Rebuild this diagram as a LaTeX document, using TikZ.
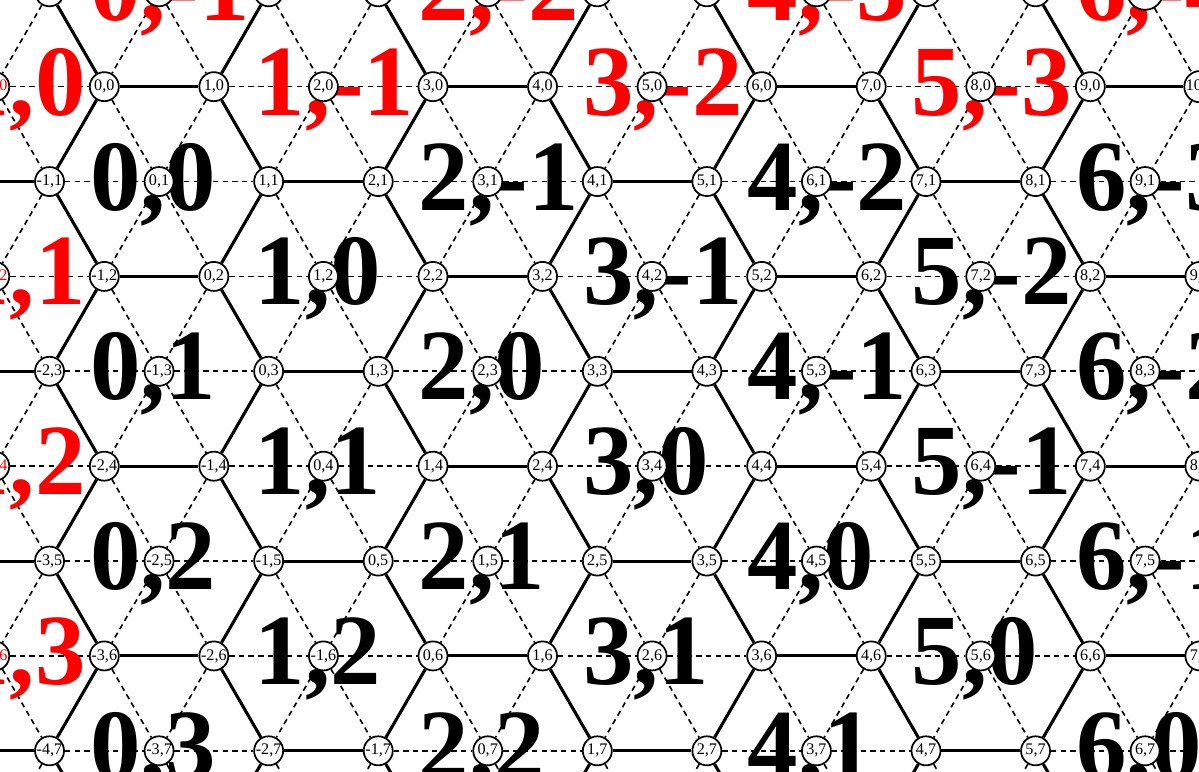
\documentclass[tikz,border=0pt]{standalone}
\usepackage{fontspec}
\setmainfont{Liberation Serif}
\pgfdeclarelayer{bonds}
\pgfdeclarelayer{hexes}
\pgfsetlayers{bonds,hexes,main}
\definecolor{cInk}{HTML}{000000}
\definecolor{cOut}{HTML}{FF0000}
\tikzset{
  site/.style={draw=cInk, line width=0.45pt, circle, fill=white, inner sep=0pt, minimum size=0.265cm, font=\fontsize{4.2}{5}\selectfont},
  hexlbl/.style={anchor=base west, inner sep=0pt, xshift=-0.635cm, yshift=-0.26cm, font=\fontsize{26.2}{28}\selectfont\bfseries},
  bond/.style={line width=0.8pt, draw=cInk},
  spoke/.style={line width=0.42pt, draw=cInk, dash pattern=on 1.4pt off 1.1pt},
}

\begin{document}
\begin{tikzpicture}
\useasboundingbox (0,0) rectangle (10.944,-7.046);
\begin{scope}[shift={(0.952cm,-0.791cm)}, x={(1cm,0cm)}, y={(0.5cm,-0.866cm)}]
% lattice sites, centres of the hexagons in the left column get red text
\foreach \j in {-1,...,8}{
  \foreach \i in {-7,...,13}{
    \pgfmathtruncatemacro{\c}{Mod(\i-\j,3)}
    \pgfmathtruncatemacro{\lft}{(0.952+\i+0.5*\j)<0.5}
    \def\tc{cInk}
    \ifnum\c=2 \ifnum\lft=1 \def\tc{cOut}\fi\fi
    \node[site, text=\tc] (s\i_\j) at (\i,\j) {\i,\j};
  }
}
% bonds: solid between corners, dashed to the centres
\begin{pgfonlayer}{bonds}
\foreach \j in {-1,...,7}{
  \foreach \i in {-6,...,12}{
    \pgfmathtruncatemacro{\c}{Mod(\i-\j,3)}
    \pgfmathtruncatemacro{\ip}{\i+1}
    \pgfmathtruncatemacro{\im}{\i-1}
    \pgfmathtruncatemacro{\jp}{\j+1}
    \ifcase\c \def\ee{bond}\def\se{spoke}\def\sw{bond}
    \or \def\ee{spoke}\def\se{bond}\def\sw{spoke}
    \or \def\ee{spoke}\def\se{spoke}\def\sw{spoke}
    \fi
    \draw[\ee] (s\i_\j) -- (s\ip_\j);
    \draw[\se] (s\i_\j) -- (s\i_\jp);
    \draw[\sw] (s\i_\j) -- (s\im_\jp);
  }
}
\end{pgfonlayer}
% hexagon coordinates
\begin{pgfonlayer}{hexes}
\foreach \j in {-1,...,8}{
  \foreach \i in {-7,...,13}{
    \pgfmathtruncatemacro{\c}{Mod(\i-\j,3)}
    \ifnum\c=2
      \pgfmathtruncatemacro{\ha}{round((2*\i+\j-1)/3)}
      \pgfmathtruncatemacro{\hb}{round((\j-\i-1)/3)}
      \pgfmathtruncatemacro{\out}{or(\j<1,(0.952+\i+0.5*\j)<0.5)}
      \def\hc{cInk}
      \ifnum\out=1 \def\hc{cOut}\fi
      \node[hexlbl, text=\hc] (h\i_\j) at (s\i_\j.center) {\ha,\hb};
    \fi
  }
}
\end{pgfonlayer}
\end{scope}
\end{tikzpicture}
\end{document}
